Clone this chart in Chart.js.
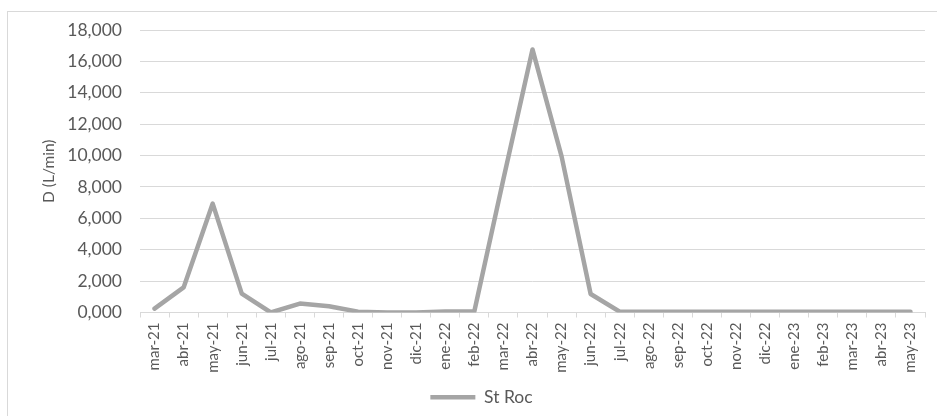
<!DOCTYPE html>
<html>
<head>
<meta charset="utf-8">
<script src="https://cdn.jsdelivr.net/npm/chart.js@4.4.1/dist/chart.umd.min.js"></script>
<style>
  html, body { margin: 0; padding: 0; background: #ffffff; }
  #wrap { width: 937px; height: 416px; position: relative; }
</style>
</head>
<body>
<div id="wrap"><canvas id="c" width="937" height="416"></canvas></div>
<script>
// Monthly discharge, St Roc spring
const months = ['mar-21','abr-21','may-21','jun-21','jul-21','ago-21','sep-21','oct-21','nov-21','dic-21',
  'ene-22','feb-22','mar-22','abr-22','may-22','jun-22','jul-22','ago-22','sep-22','oct-22','nov-22','dic-22',
  'ene-23','feb-23','mar-23','abr-23','may-23'];
const stRoc = [0.25, 1.60, 6.94, 1.20, 0.00, 0.57, 0.40, 0.05, 0.00, 0.00,
  0.06, 0.08, 8.50, 16.76, 9.95, 1.18, 0.05, 0.05, 0.05, 0.05, 0.05, 0.05,
  0.05, 0.05, 0.05, 0.05, 0.05];
const yTicks = { min: 0, max: 18, step: 2 };
const seriesName = 'St Roc';
const axisTitle = 'D (L/min)';

const TEXT = '#595959';
const GRID = '#D9D9D9';
const LINE = '#A5A5A5';
const FONT = 'Lato, "Open Sans", sans-serif';
const PAD_LEFT = 38;

// Thin frame around the whole chart object
const frame = {
  id: 'frame',
  beforeDraw(chart) {
    const ctx = chart.ctx;
    ctx.save();
    ctx.fillStyle = '#ffffff';
    ctx.fillRect(0, 0, chart.width, chart.height);
    ctx.strokeStyle = GRID;
    ctx.lineWidth = 1;
    ctx.strokeRect(7.5, 11.5, 2000, 2000);
    ctx.restore();
  }
};

new Chart(document.getElementById('c'), {
  type: 'line',
  data: {
    labels: months,
    datasets: [{
      label: seriesName,
      data: stRoc,
      borderColor: LINE,
      backgroundColor: LINE,
      borderWidth: 4.5,
      borderJoinStyle: 'round',
      borderCapStyle: 'round',
      pointRadius: 0,
      pointHoverRadius: 0,
      tension: 0,
      fill: false
    }]
  },
  options: {
    responsive: false,
    animation: false,
    events: [],
    layout: { padding: { left: PAD_LEFT, right: 12, top: 30, bottom: 0 } },
    plugins: {
      tooltip: { enabled: false },
      legend: {
        position: 'bottom',
        labels: {
          color: TEXT,
          font: { family: FONT, size: 17.5 },
          usePointStyle: true,
          pointStyle: 'line',
          pointStyleWidth: 45,
          boxHeight: 4,
          padding: 8
        }
      }
    },
    scales: {
      x: {
        offset: true,
        grid: {
          display: true,
          drawOnChartArea: false,
          drawTicks: true,
          tickLength: 5,
          offset: true,
          color: GRID
        },
        border: { display: true, color: GRID, width: 1 },
        ticks: {
          color: TEXT,
          font: { family: FONT, size: 15 },
          minRotation: 90,
          maxRotation: 90,
          autoSkip: false,
          padding: 5
        },
        afterFit(scale) { scale.height = 68; }
      },
      y: {
        min: yTicks.min,
        max: yTicks.max,
        grid: { color: GRID, lineWidth: 1, drawTicks: false },
        border: { display: false },
        ticks: {
          stepSize: yTicks.step,
          color: TEXT,
          font: { family: FONT, size: 17.5 },
          padding: 18,
          callback: v => v.toFixed(3).replace('.', ',')
        },
        title: {
          display: true,
          text: axisTitle,
          color: TEXT,
          font: { family: FONT, size: 15.5 },
          padding: { top: 40 - PAD_LEFT, bottom: 0 }
        },
        afterFit(scale) { scale.width = 140 - PAD_LEFT; }
      }
    }
  },
  plugins: [frame]
});
</script>
</body>
</html>
